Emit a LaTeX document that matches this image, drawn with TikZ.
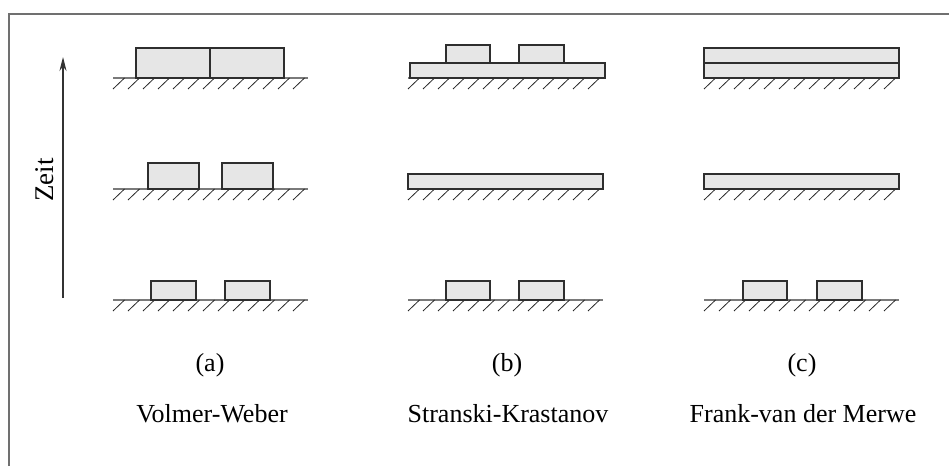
\documentclass[tikz,border=0pt]{standalone}
\usepackage{fontspec}
\setmainfont{Liberation Serif}
\usetikzlibrary{arrows.meta}
\definecolor{boxfill}{HTML}{E6E6E6}
\definecolor{edge}{HTML}{2E2E2E}
\definecolor{groundc}{HTML}{7A7A7A}
\definecolor{framec}{HTML}{707070}
\tikzset{
  film/.style={draw=edge, fill=boxfill, line width=1.2pt},
  groundline/.style={draw=groundc, line width=1.6pt},
  hatchline/.style={draw=black!85, line width=0.8pt},
  framel/.style={draw=framec, line width=1.5pt},
  lab/.style={font=\fontsize{26}{31}\selectfont, inner sep=0pt},
  timearrow/.style={draw=black!80, line width=1.1pt, -{Stealth[length=14pt,width=7pt]}}
}
% ground: #1 = left x, #2 = ground y
\newcommand\mkground[2]{%
  \draw[groundline] (#1,#2) -- ++(195,0);
  \foreach \i in {0,...,12}{\draw[hatchline] ({#1+15*\i},{#2+11}) -- ++(11.5,-11);}
}
% rectangle relative to ground start: #1 x0, #2 rel x1, #3 rel x2, #4 y top, #5 y bottom
\newcommand\mkfilm[5]{\draw[film] ({#1+#2},#4) rectangle ({#1+#3},#5);}
\begin{document}
\begin{tikzpicture}[x=1pt,y=-1pt]
\useasboundingbox (0,0) rectangle (949,466);
% frame
\draw[framel] (9,466) -- (9,14) -- (949,14);
% time axis
\coordinate (tstart) at (63,298);
\coordinate (tend) at (63,57);
\draw[timearrow] (tstart) -- (tend);
\node[lab, rotate=90, font=\fontsize{27}{32}\selectfont] (zeit) at (45,180) {Zeit};

% ---------- column (a) : ground start 113
\mkground{113}{78}
\mkfilm{113}{23}{97}{48}{78}
\mkfilm{113}{97}{171}{48}{78}
\mkground{113}{189}
\mkfilm{113}{35}{86}{163}{189}
\mkfilm{113}{109}{160}{163}{189}
\mkground{113}{300}
\mkfilm{113}{38}{83}{281}{300}
\mkfilm{113}{112}{157}{281}{300}

% ---------- column (b) : ground start 408
\mkground{408}{78}
\mkfilm{408}{2}{197}{63}{78}
\mkfilm{408}{38}{82}{45}{63}
\mkfilm{408}{111}{156}{45}{63}
\mkground{408}{189}
\mkfilm{408}{0}{195}{174}{189}
\mkground{408}{300}
\mkfilm{408}{38}{82}{281}{300}
\mkfilm{408}{111}{156}{281}{300}

% ---------- column (c) : ground start 704
\mkground{704}{78}
\mkfilm{704}{0}{195}{48}{78}
\draw[edge, line width=1.2pt] (704,63) -- (899,63);
\mkground{704}{189}
\mkfilm{704}{0}{195}{174}{189}
\mkground{704}{300}
\mkfilm{704}{39}{83}{281}{300}
\mkfilm{704}{113}{158}{281}{300}

% labels
\node[lab] (la) at (210,365) {(a)};
\node[lab] (lb) at (507,365) {(b)};
\node[lab] (lc) at (802,365) {(c)};
\node[lab] (na) at (212,414) {Volmer-Weber};
\node[lab] (nb) at (508,414) {Stranski-Krastanov};
\node[lab] (nc) at (803,414) {Frank-van der Merwe};
\end{tikzpicture}
\end{document}
